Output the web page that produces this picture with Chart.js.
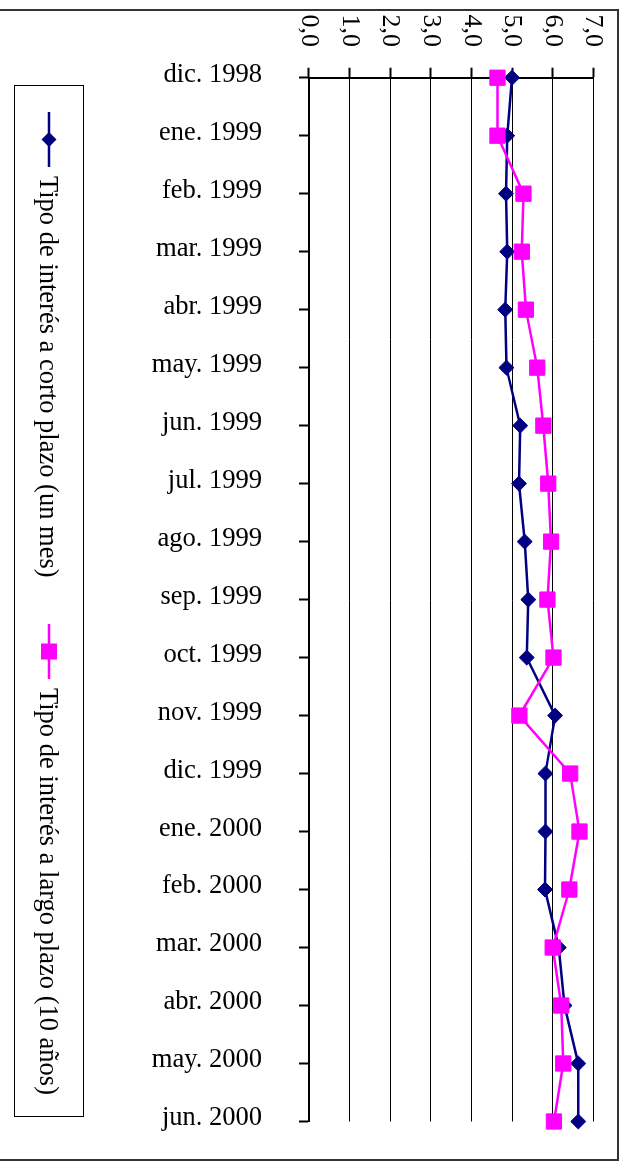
<!DOCTYPE html>
<html>
<head>
<meta charset="utf-8">
<script src="https://cdn.jsdelivr.net/npm/chart.js@4/dist/chart.umd.min.js"></script>
<style>
  html, body { margin: 0; padding: 0; background: #fff; width: 627px; height: 1170px; overflow: hidden; }
  #frame { position: absolute; left: -4px; top: 9px; width: 623px; height: 1152px; border: 2px solid #333; border-left: none; box-sizing: border-box; }
  #stage { position: absolute; left: 0; top: 0; width: 1170px; height: 627px;
           transform-origin: 0 0; transform: translate(627px, 0) rotate(90deg); }
  #chart { position: absolute; left: 0; top: 0; }
  #legend { position: absolute; left: 85px; top: 543px; width: 1032px; height: 70px;
            border: 1px solid #000; box-sizing: border-box; background: #fff;
            font-family: 'Liberation Serif', 'Times New Roman', serif; font-size: 26.5px; color: #000; }
  .item { position: absolute; top: 0; height: 100%; display: flex; align-items: center; white-space: nowrap; }
  .item svg { margin-right: 9px; }
</style>
</head>
<body>
<div id="frame"></div>
<div id="stage">
  <canvas id="chart" width="1170" height="627"></canvas>
  <div id="legend">
    <div class="item" style="left:26px">
      <svg width="55" height="20" viewBox="0 0 55 20">
        <line x1="0" y1="10" x2="55" y2="10" stroke="#000080" stroke-width="2.5"/>
        <polygon points="27.5,2.5 35,10 27.5,17.5 20,10" fill="#000080"/>
      </svg>
      <span>Tipo de interés a corto plazo (un mes)</span>
    </div>
    <div class="item" style="left:538px">
      <svg width="55" height="20" viewBox="0 0 55 20">
        <line x1="0" y1="10" x2="55" y2="10" stroke="#FF00FF" stroke-width="2.5"/>
        <rect x="19.5" y="2" width="16" height="16" fill="#FF00FF"/>
      </svg>
      <span>Tipo de interés a largo plazo (10 años)</span>
    </div>
  </div>
</div>
<script>
// Monthly categories, December 1998 to June 2000
const categories = [
  'dic. 1998', 'ene. 1999', 'feb. 1999', 'mar. 1999', 'abr. 1999', 'may. 1999',
  'jun. 1999', 'jul. 1999', 'ago. 1999', 'sep. 1999', 'oct. 1999', 'nov. 1999',
  'dic. 1999', 'ene. 2000', 'feb. 2000', 'mar. 2000', 'abr. 2000', 'may. 2000', 'jun. 2000'
];

// Short-term interest rate (one month), %
const shortRate = [5.00, 4.88, 4.85, 4.88, 4.83, 4.86, 5.20, 5.17, 5.31, 5.40,
                   5.36, 6.06, 5.82, 5.82, 5.81, 6.15, 6.29, 6.63, 6.63];

// Long-term interest rate (ten years), %
const longRate = [4.64, 4.64, 5.28, 5.24, 5.34, 5.62, 5.77, 5.89, 5.96, 5.87,
                  6.02, 5.18, 6.43, 6.66, 6.41, 6.00, 6.21, 6.26, 6.03];

// Value axis tick labels (0 to 7)
const valueTickLabels = ['0,0', '1,0', '2,0', '3,0', '4,0', '5,0', '6,0', '7,0'];

const seriesNames = ['Tipo de interés a corto plazo (un mes)', 'Tipo de interés a largo plazo (10 años)'];

Chart.defaults.font.family = "'Liberation Serif', 'Times New Roman', serif";
Chart.defaults.color = '#000';

new Chart(document.getElementById('chart'), {
  type: 'line',
  data: {
    labels: categories,
    datasets: [
      {
        label: seriesNames[0],
        data: shortRate,
        borderColor: '#000080',
        backgroundColor: '#000080',
        borderWidth: 2.5,
        pointStyle: 'rectRot',
        pointRadius: 7.5,
        pointBorderWidth: 1,
        pointBorderColor: '#000080',
        pointBackgroundColor: '#000080',
        tension: 0,
        clip: false,
        order: 1
      },
      {
        label: seriesNames[1],
        data: longRate,
        borderColor: '#FF00FF',
        backgroundColor: '#FF00FF',
        borderWidth: 2.5,
        pointStyle: 'rect',
        pointRadius: 10.8,
        pointBorderWidth: 1,
        pointBorderColor: '#FF00FF',
        pointBackgroundColor: '#FF00FF',
        tension: 0,
        clip: false,
        order: 0
      }
    ]
  },
  options: {
    responsive: false,
    devicePixelRatio: 1,
    animation: false,
    events: [],
    layout: { padding: { left: 0, top: 33.7, right: 48.5, bottom: 0 } },
    plugins: { legend: { display: false }, tooltip: { enabled: false } },
    scales: {
      x: {
        type: 'category',
        offset: false,
        grid: { display: true, drawOnChartArea: false, drawTicks: true, tickLength: 10,
                color: '#000', tickColor: '#000', tickWidth: 2 },
        border: { display: true, color: '#000', width: 2 },
        ticks: { autoSkip: false, minRotation: 90, maxRotation: 90, padding: 37,
                 labelOffset: -3, font: { size: 26.5 }, color: '#000' },
        afterFit: s => { s.height = 309; s.paddingLeft = 0; s.paddingRight = 0; }
      },
      y: {
        min: 0,
        max: 7,
        ticks: { stepSize: 1, padding: 20.7, font: { size: 26 }, color: '#000',
                 callback: (v, i) => valueTickLabels[i] },
        grid: { display: true, color: '#000', lineWidth: 1, drawTicks: true, tickLength: 10,
                tickColor: '#000', tickWidth: 2 },
        border: { display: true, color: '#000', width: 2 },
        afterFit: s => { s.width = 77.7; s.paddingTop = 0; s.paddingBottom = 0; }
      }
    }
  }
});
</script>
</body>
</html>
